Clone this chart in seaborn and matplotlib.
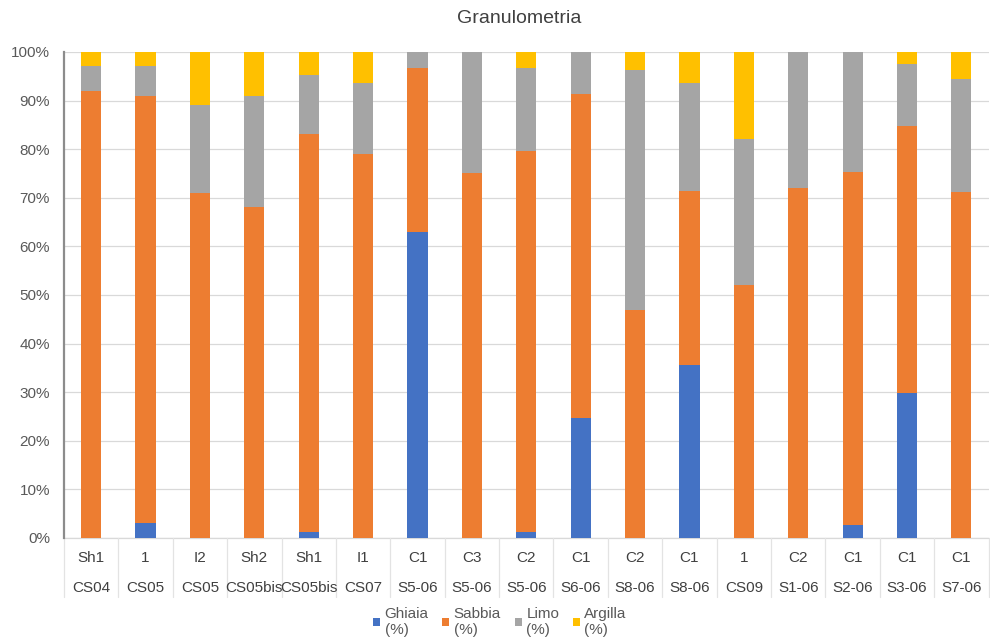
import matplotlib
matplotlib.use("Agg")
import matplotlib.pyplot as plt
import matplotlib.transforms as mtransforms
from matplotlib.patches import Patch
import numpy as np
import pandas as pd
import seaborn as sns

# Sampling sites and sample levels (two-row category axis)
siti = ["CS04", "CS05", "CS05", "CS05bis", "CS05bis", "CS07", "S5-06", "S5-06",
        "S5-06", "S6-06", "S8-06", "S8-06", "CS09", "S1-06", "S2-06", "S3-06", "S7-06"]
livelli = ["Sh1", "1", "I2", "Sh2", "Sh1", "I1", "C1", "C3",
           "C2", "C1", "C2", "C1", "1", "C2", "C1", "C1", "C1"]

# Grain-size fractions (%)
ghiaia = [0, 3, 0, 0, 1.2, 0, 63, 0, 1.2, 24.7, 0, 35.5, 0, 0, 2.6, 29.8, 0]
sabbia = [92, 88, 71, 68, 82, 79, 33.6, 75, 78.4, 66.6, 47, 35.8, 52, 72, 72.7, 54.9, 71.2]
limo = [5, 6, 18, 23, 12, 14.7, 3.4, 25, 17, 8.7, 49.3, 22.2, 30, 28, 24.7, 12.8, 23.2]
argilla = [3, 3, 11, 9, 4.8, 6.3, 0, 0, 3.4, 0, 3.7, 6.5, 18, 0, 0, 2.5, 5.6]

serie = ["Ghiaia\n(%)", "Sabbia\n(%)", "Limo\n(%)", "Argilla\n(%)"]
colori = ["#4472C4", "#ED7D31", "#A5A5A5", "#FFC000"]

chiavi = [f"{s}|{l}" for s, l in zip(siti, livelli)]
df = pd.DataFrame({"campione": chiavi, "Ghiaia": ghiaia, "Sabbia": sabbia,
                   "Limo": limo, "Argilla": argilla})
comp = ["Ghiaia", "Sabbia", "Limo", "Argilla"]
cum = df[comp].cumsum(axis=1)
tot = df[comp].sum(axis=1)
cum = cum.div(tot, axis=0)  # normalise each sample to 100%

sns.set_theme(style="white")
plt.rcParams["font.family"] = ["Liberation Sans", "DejaVu Sans"]

fig = plt.figure(figsize=(9.9, 6.43), dpi=100)
ax = fig.add_axes([0.0646, 0.1633, 0.934, 0.756])

# Stacked bars: draw the cumulative totals from the top layer down
for name, col in reversed(list(zip(comp, colori))):
    sns.barplot(x=df["campione"], y=cum[name], color=col, width=0.37,
                saturation=1, ax=ax, order=chiavi, zorder=3, linewidth=0)

ax.set_xlim(-0.5, len(chiavi) - 0.5)
ax.set_ylim(0, 1.0)
ax.set_yticks(np.arange(0, 1.01, 0.1))
ax.set_yticklabels([f"{int(round(v * 100))}%" for v in np.arange(0, 1.01, 0.1)],
                   fontsize=11, color="#595959")
ax.yaxis.grid(True, color="#D9D9D9", linewidth=0.9, zorder=0)
ax.set_axisbelow(True)
ax.tick_params(axis="y", length=0, pad=10)
ax.set_xticks([])
ax.set_xlabel("")
ax.set_ylabel("")
for sp in ["top", "right", "bottom"]:
    ax.spines[sp].set_visible(False)
ax.spines["left"].set_color("#8C8C8C")
ax.spines["left"].set_linewidth(1.6)

# Two-row category labels with separators
trans = mtransforms.blended_transform_factory(ax.transData, ax.transAxes)
for i, (s, l) in enumerate(zip(siti, livelli)):
    ax.text(i, -0.042, l, transform=trans, ha="center", va="center",
            fontsize=11, color="#404040", clip_on=False)
    ax.text(i, -0.103, s, transform=trans, ha="center", va="center",
            fontsize=11, color="#404040", clip_on=False)
for i in range(len(chiavi) + 1):
    ax.plot([i - 0.5, i - 0.5], [0, -0.121], transform=trans, color="#E3E3E3",
            linewidth=0.9, clip_on=False)
ax.plot([-0.5, len(chiavi) - 0.5], [0, 0], transform=trans, color="#D9D9D9",
        linewidth=0.9, clip_on=False, zorder=1)

fig.text(0.524, 0.972, "Granulometria", ha="center", va="center",
         fontsize=14, color="#404040")

handles = [Patch(facecolor=c, edgecolor="none") for c in colori]
fig.legend(handles, serie, loc="upper center", bbox_to_anchor=(0.505, 0.068),
           ncol=4, frameon=False, fontsize=11, handlelength=0.45,
           handleheight=0.45, handletextpad=0.3, columnspacing=0.9,
           labelcolor="#595959", borderpad=0, labelspacing=0)

fig.savefig("out.png", dpi=100)
